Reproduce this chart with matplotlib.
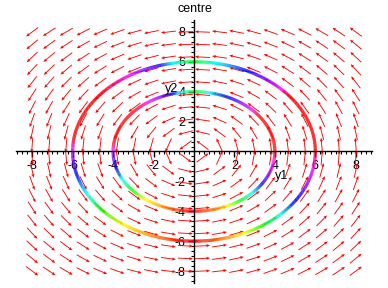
import numpy as np
import matplotlib
matplotlib.use("Agg")
import matplotlib.pyplot as plt
from matplotlib.collections import LineCollection
from matplotlib.colors import hsv_to_rgb
from matplotlib.ticker import FixedLocator, MultipleLocator

plt.rcParams['font.family'] = ['Liberation Sans', 'DejaVu Sans']

# system: y1' = -y2, y2' = y1  (centre)
grid_n = 20
grid_lo, grid_hi = -8, 8
init_y2 = [4, 6]          # trajectories start at y1=0, y2=r

# hue along the trajectories (angle in degrees -> hue in degrees)
theta_knots = [0, 38, 44, 55, 65, 80, 90, 100, 106, 114, 123, 135, 142, 172, 178,
               185, 195, 208, 220, 234, 250, 265, 270, 285, 294, 305, 316, 327,
               337, 350, 357, 360]
hue_knots = [360, 360, 300, 270, 240, 180, 120, 180, 240, 270, 300, 345, 360, 360, 300,
             270, 240, 180, 120, 60, 30, 0, 0, 30, 60, 120, 180, 240,
             270, 300, 340, 360]

xticks = [-8, -6, -4, -2, 2, 4, 6, 8]
yticks = [-8, -6, -4, -2, 2, 4, 6, 8]

fig = plt.figure(figsize=(3.88, 2.88), dpi=100)
ax = fig.add_axes([0.0412, 0.0174, 0.9175, 0.9132])
ax.set_xlim(-8.8, 8.8)
ax.set_ylim(-8.8, 8.8)

# direction field, arrows of constant on-screen length
g = np.linspace(grid_lo, grid_hi, grid_n)
Y1, Y2 = np.meshgrid(g, g)
U, V = -Y2, Y1
fig.canvas.draw()
sx = ax.bbox.width / np.diff(ax.get_xlim())[0]
sy = ax.bbox.height / np.diff(ax.get_ylim())[0]
us, vs = U * sx, V * sy
n = np.hypot(us, vs)
n[n == 0] = 1
ax.quiver(Y1, Y2, us / n, vs / n, angles='uv', scale_units='inches', scale=1 / 0.15,
          pivot='middle', color='#ff0000', width=0.0025, headwidth=3.6,
          headlength=4.2, headaxislength=3.6, zorder=2)

# trajectories
for r in init_y2:
    th = np.linspace(0, 2 * np.pi, 721)
    x, y = r * np.cos(th), r * np.sin(th)
    pts = np.column_stack([x, y]).reshape(-1, 1, 2)
    segs = np.concatenate([pts[:-1], pts[1:]], axis=1)
    mid = np.degrees(th[:-1] + np.diff(th) / 2)
    h = (np.interp(mid, theta_knots, hue_knots) % 360) / 360
    cols = hsv_to_rgb(np.column_stack([h, np.ones_like(h), np.ones_like(h)]))
    lc = LineCollection(segs, colors=cols, linewidths=2.3, capstyle='butt', zorder=3)
    ax.add_collection(lc)

for s in ['top', 'right']:
    ax.spines[s].set_visible(False)
for s in ['left', 'bottom']:
    ax.spines[s].set_position(('data', 0))
    ax.spines[s].set_linewidth(1.0)
    ax.spines[s].set_zorder(4)

ax.xaxis.set_major_locator(FixedLocator(xticks))
ax.yaxis.set_major_locator(FixedLocator(yticks))
ax.set_xticklabels([str(t) for t in xticks])
ax.set_yticklabels([str(t) for t in yticks])
ax.xaxis.set_minor_locator(MultipleLocator(0.25))
ax.yaxis.set_minor_locator(MultipleLocator(1 / 3))
ax.tick_params(which='major', direction='out', length=4, width=1, labelsize=9, pad=2)
ax.tick_params(which='minor', direction='out', length=2, width=0.8)

ax.text(4.33, -1.64, 'y1', fontsize=9, ha='center', va='center')
ax.text(-1.1, 4.2, 'y2', fontsize=9, ha='center', va='center')
fig.text(0.503, 0.97, 'centre', fontsize=9, ha='center', va='center')

fig.savefig('out.png', dpi=100)
